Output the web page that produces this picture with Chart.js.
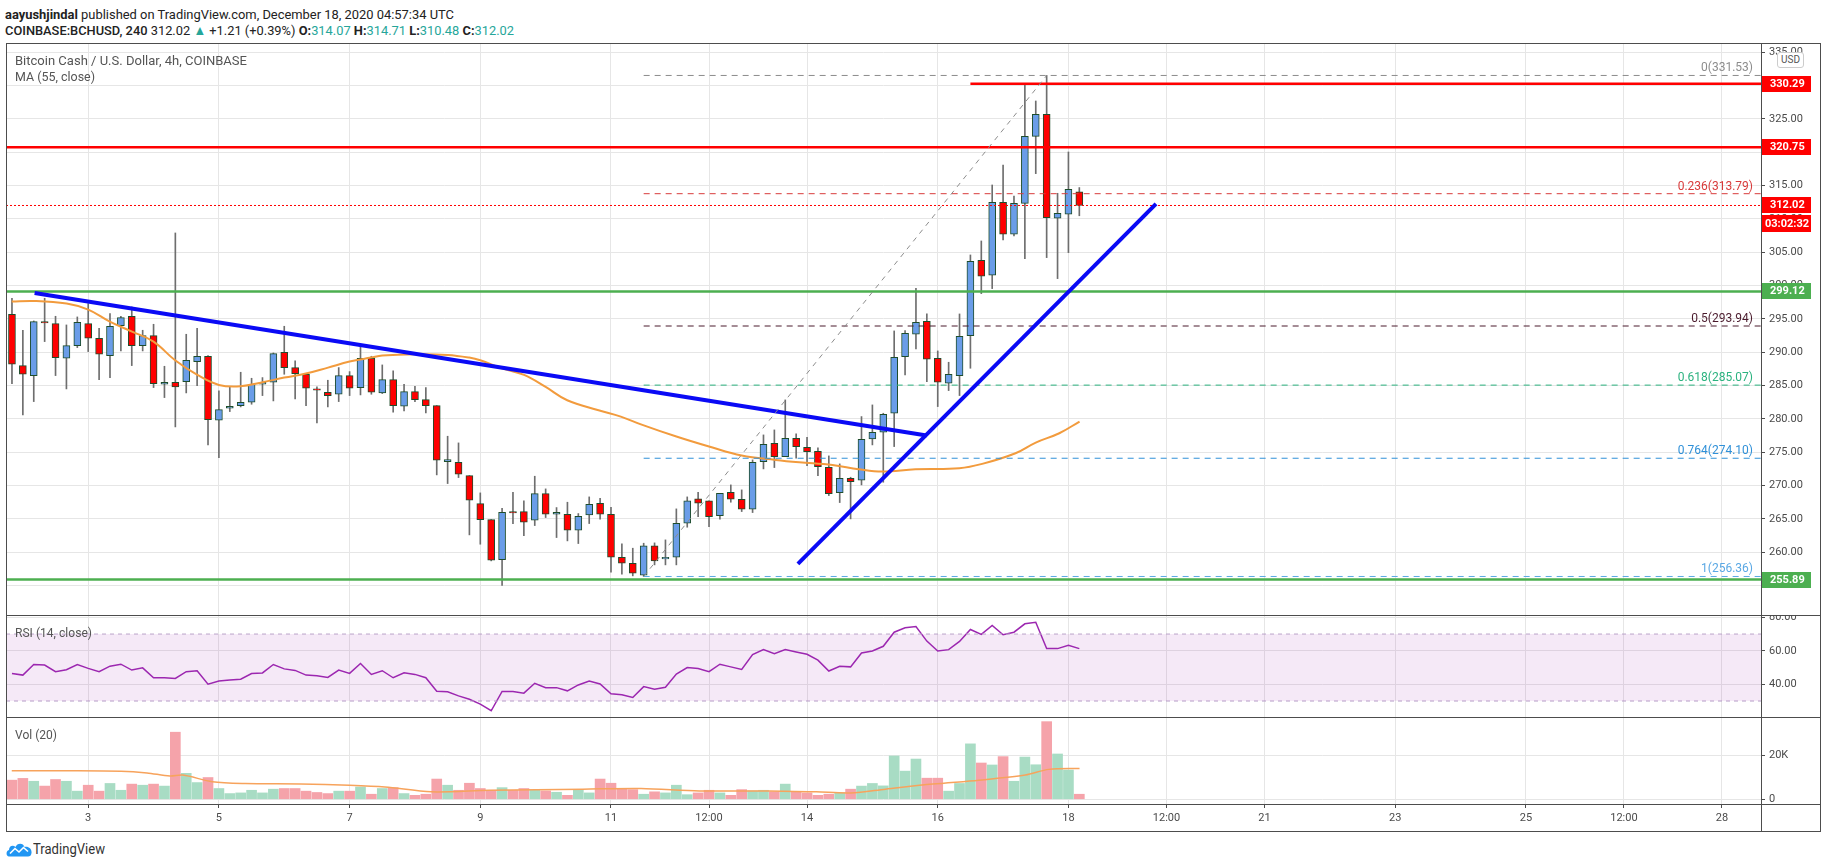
<!DOCTYPE html>
<html>
<head>
<meta charset="utf-8">
<title>BCHUSD 4h</title>
<script src="https://cdn.jsdelivr.net/npm/chart.js@4.4.1/dist/chart.umd.min.js"></script>
<style>
  body { margin: 0; background: #fff; font-family: Roboto, 'Liberation Sans', sans-serif; color: #222; }
  #page { position: relative; width: 1828px; height: 868px; overflow: hidden; }
  .txt { position: absolute; white-space: nowrap; transform-origin: 0 50%; }
  .up { color: #26a69a; }
  canvas { position: absolute; left: 6px; }
  .line { position: absolute; background: #4d4d4d; z-index: 5; }
  .pane-label { position: absolute; left: 15px; font-size: 13px; line-height: 14px; color: #555; z-index: 6; white-space: nowrap; transform-origin: 0 50%; }
</style>
</head>
<body>
<div id="page">
  <div class="txt" data-w="449" style="left:5px;top:6px;font-size:13.5px;line-height:16px;"><b>aayushjindal</b> published on TradingView.com, December 18, 2020 04:57:34 UTC</div>
  <div class="txt" data-w="509" style="left:5px;top:22px;font-size:13.5px;line-height:16px;"><span style="font-weight:500">COINBASE:BCHUSD, 240</span> 312.02 <span class="up">▲</span> +1.21 (+0.39%) <b>O:</b><span class="up">314.07</span> <b>H:</b><span class="up">314.71</span> <b>L:</b><span class="up">310.48</span> <b>C:</b><span class="up">312.02</span></div>

  <canvas id="priceChart" width="1815" height="572" style="top:43px"></canvas>
  <canvas id="rsiChart" width="1815" height="102" style="top:615px"></canvas>
  <canvas id="volChart" width="1815" height="114" style="top:717px"></canvas>

  <div class="pane-label" data-w="232" style="top:54px;">Bitcoin Cash / U.S. Dollar, 4h, COINBASE</div>
  <div class="pane-label" data-w="80" style="top:70px;">MA (55, close)</div>
  <div class="pane-label" data-w="77" style="top:626px;">RSI (14, close)</div>
  <div class="pane-label" data-w="42" style="top:728px;">Vol (20)</div>

  <div class="txt" style="left:1777px;top:52px;width:25px;height:14px;border:1px solid #ccc;border-radius:3px;background:#fff;font-size:10px;line-height:14px;text-align:center;color:#555;z-index:6;">USD</div>

  <!-- frame and pane dividers -->
  <div class="line" style="left:6px;top:43px;width:1815px;height:1px;"></div>
  <div class="line" style="left:6px;top:615px;width:1815px;height:1px;"></div>
  <div class="line" style="left:6px;top:717px;width:1815px;height:1px;"></div>
  <div class="line" style="left:6px;top:804px;width:1815px;height:1px;"></div>
  <div class="line" style="left:6px;top:831px;width:1815px;height:1px;"></div>
  <div class="line" style="left:6px;top:43px;width:1px;height:789px;"></div>
  <div class="line" style="left:1820px;top:43px;width:1px;height:789px;"></div>
  <div class="line" style="left:1761px;top:43px;width:1px;height:789px;"></div>

  <svg class="txt" style="left:6px;top:842px;" width="26" height="15" viewBox="0 0 26 15">
    <path d="M3 14.5 C0 14.5 -0.5 9 3 8 C3 4 7 2.5 9.5 5 C11 0.5 17.5 0.5 18.5 5 C22.5 4 26 7 25.5 11 C25.3 13.5 24 14.5 22 14.5 Z" fill="#2196f3"/>
    <polyline points="4,11.5 9,6.5 13,10 17.5,5.5 22,9.5" fill="none" stroke="#fff" stroke-width="1.6"/>
  </svg>
  <div class="txt" data-w="72" style="left:33px;top:841px;font-size:14px;line-height:16px;color:#333;">TradingView</div>
</div>

<script>
// BCHUSD 4h candles, first bar Dec 1 20:00 UTC, last bar Dec 18 04:00 UTC
const opens = [295.7, 288.0, 286.5, 294.6, 294.3, 289.1, 291.0, 294.3, 292.1, 289.5,
  294.0, 295.4, 291.0, 292.5, 285.2, 285.5, 285.6, 288.6, 289.4, 279.8,
  281.6, 282.0, 282.5, 285.2, 285.5, 290.0, 287.7, 286.7, 284.5, 284.0,
  283.7, 286.5, 284.7, 289.1, 283.9, 285.9, 281.9, 284.1, 282.9, 282.0,
  273.6, 273.5, 271.5, 267.3, 264.9, 258.9, 266.1, 266.1, 264.8, 268.8,
  265.7, 265.7, 263.3, 265.6, 267.35, 265.7, 259.25, 258.35, 256.55, 260.95,
  259.0, 259.25, 264.35, 268.0, 267.7, 265.5, 269.0, 267.95, 266.45, 273.6,
  276.35, 274.35, 277.1, 275.75, 275.15, 272.75, 268.95, 271.1, 270.8, 277.0,
  278.0, 280.85, 289.35, 292.7, 294.65, 289.1, 285.35, 286.5, 292.5, 303.8,
  301.55, 312.5, 307.7, 312.35, 322.4, 325.7, 310.1, 310.7, 314.07];
const highs = [298.1, 293.3, 294.7, 298.1, 295.4, 294.1, 295.3, 297.3, 293.6, 295.8,
  295.4, 296.8, 293.3, 294.2, 287.9, 307.9, 292.7, 293.6, 289.5, 284.2,
  284.8, 287.0, 286.1, 286.2, 289.9, 293.9, 288.7, 286.8, 284.8, 285.8,
  287.7, 287.1, 290.8, 289.4, 288.1, 287.2, 285.2, 284.9, 284.7, 282.0,
  277.4, 276.4, 271.5, 268.9, 264.9, 266.6, 269.0, 267.7, 271.4, 269.5,
  266.7, 267.5, 265.8, 268.3, 268.1, 266.75, 261.25, 260.6, 261.35, 261.4,
  261.85, 266.5, 268.3, 269.0, 267.7, 268.85, 270.1, 269.35, 273.85, 277.6,
  278.35, 282.85, 277.75, 277.25, 275.65, 274.45, 273.25, 271.25, 280.35, 282.1,
  280.85, 293.2, 293.25, 299.6, 295.75, 290.2, 288.5, 295.75, 304.6, 306.7,
  315.1, 318.1, 313.45, 330.35, 327.7, 331.53, 313.85, 320.05, 314.71];
const lows = [285.3, 280.6, 282.6, 291.6, 286.5, 284.5, 290.7, 290.1, 285.9, 286.2,
  290.2, 288.0, 290.2, 284.7, 283.2, 278.8, 283.9, 285.0, 276.1, 274.2,
  281.1, 281.8, 282.2, 283.5, 282.7, 286.7, 283.0, 282.0, 279.4, 281.8,
  282.6, 283.5, 283.6, 283.7, 283.8, 281.0, 281.2, 282.6, 280.9, 271.6,
  270.3, 271.2, 262.6, 261.2, 258.7, 255.0, 264.3, 262.5, 264.0, 265.2,
  262.2, 261.7, 261.3, 264.3, 264.95, 257.0, 256.7, 256.45, 256.36, 258.1,
  258.1, 258.1, 263.75, 265.35, 263.85, 264.95, 267.5, 266.1, 265.95, 272.5,
  272.7, 274.35, 274.1, 273.0, 271.5, 268.5, 267.45, 265.0, 270.1, 276.1,
  270.5, 275.85, 286.6, 290.5, 285.6, 281.85, 284.25, 283.5, 287.6, 298.8,
  299.55, 306.85, 307.45, 304.05, 316.8, 304.2, 301.05, 304.95, 310.48];
const closes = [288.2, 286.7, 294.6, 294.4, 289.2, 291.0, 294.5, 292.1, 289.7, 293.9,
  295.2, 291.0, 292.5, 285.3, 285.5, 284.8, 288.8, 289.4, 279.9, 281.4,
  281.9, 282.5, 285.2, 285.5, 289.8, 287.7, 286.8, 284.6, 284.3, 283.5,
  286.5, 284.6, 289.1, 284.0, 285.9, 282.0, 284.1, 282.9, 282.0, 273.8,
  273.9, 271.7, 267.8, 264.9, 258.8, 266.0, 265.9, 264.5, 268.8, 265.7,
  266.0, 263.3, 265.4, 267.2, 265.7, 259.25, 258.35, 256.85, 260.95, 258.7,
  259.25, 264.35, 267.7, 267.35, 265.35, 268.85, 267.95, 266.45, 273.5, 276.2,
  274.35, 277.1, 275.85, 275.1, 272.85, 268.8, 271.1, 270.6, 276.95, 278.0,
  280.7, 289.25, 292.85, 294.5, 288.95, 285.5, 286.7, 292.4, 303.65, 301.4,
  312.5, 307.7, 312.35, 322.4, 325.7, 310.2, 310.85, 314.45, 312.02];

// volume in thousands
const volumes = [8.7, 9.5, 8.2, 6.0, 9.0, 8.2, 3.7, 6.4, 3.7, 7.2,
  4.1, 6.9, 6.4, 6.9, 6.0, 30.5, 11.8, 7.6, 9.9, 4.9,
  2.6, 2.9, 4.1, 2.9, 4.6, 4.9, 4.9, 3.7, 3.1, 2.6,
  3.7, 3.7, 5.6, 2.3, 4.9, 5.3, 2.6, 1.8, 2.3, 9.2,
  6.4, 4.1, 7.3, 4.9, 4.1, 5.3, 4.1, 4.9, 4.1, 3.8,
  3.2, 1.8, 4.4, 2.9, 9.2, 7.3, 4.7, 4.4, 2.3, 3.4,
  2.9, 6.4, 2.1, 2.9, 4.1, 2.9, 1.8, 4.4, 3.8, 4.1,
  3.4, 6.9, 3.4, 2.9, 1.8, 2.3, 2.9, 4.6, 6.0, 7.2,
  6.1, 19.7, 12.8, 18.3, 9.6, 9.6, 3.7, 7.2, 25.2, 16.5,
  15.6, 19.4, 8.2, 19.2, 15.7, 35.3, 20.6, 13.3, 2.3];

const rsiValues = [46.5, 45.5, 51.8, 51.5, 47.5, 48.7, 51.8, 49.5, 47.5, 50.8,
  52.0, 48.5, 49.8, 43.9, 43.9, 43.5, 47.5, 48.1, 40.1, 42.0,
  42.5, 43.0, 46.4, 46.8, 51.8, 49.2, 48.3, 45.5, 45.1, 44.1,
  48.5, 46.5, 52.4, 45.9, 48.1, 43.9, 46.9, 45.9, 43.9, 35.9,
  35.5, 33.1, 31.1, 28.2, 24.2, 35.7, 35.7, 34.7, 40.6, 38.0,
  38.0, 36.1, 39.6, 42.0, 40.2, 34.3, 33.7, 32.1, 38.6, 37.0,
  38.2, 46.1, 50.0, 49.4, 47.5, 52.0, 50.4, 48.9, 57.7, 60.7,
  58.3, 60.7, 59.3, 57.9, 54.4, 47.9, 50.8, 50.4, 58.7, 59.9,
  62.7, 71.1, 73.7, 74.5, 65.8, 59.9, 60.7, 65.6, 72.7, 69.8,
  75.1, 69.6, 71.1, 76.1, 77.0, 61.3, 61.3, 63.3, 61.3];

// MA(55), x in days of December
const maTimes = [1.83, 2.17, 2.67, 3.0, 3.33, 3.67, 4.0, 4.33, 4.67, 5.0, 5.33, 5.67, 6.0, 6.33, 6.67,
  7.0, 7.33, 7.5, 8.0, 8.5, 8.83, 9.0, 9.33, 9.67, 10.0, 10.33, 10.81, 11.15, 11.48, 12.0,
  12.5, 13.0, 13.52, 13.88, 14.39, 14.79, 15.15, 15.66, 16.33, 16.68, 17.19, 17.5, 17.86, 18.17];
const maValues = [297.6, 297.7, 297.3, 296.4, 294.6, 293.1, 291.6, 288.8, 286.6, 285.1, 284.9, 285.5, 286.2, 286.8, 287.7,
  288.6, 289.2, 289.5, 289.7, 289.6, 289.2, 288.8, 287.6, 286.6, 284.8, 282.8, 281.3, 280.35, 279.1, 277.35,
  275.85, 274.5, 273.85, 273.5, 273.1, 272.45, 272.1, 272.45, 272.6, 273.25, 274.85, 276.45, 277.85, 279.6];

// volume MA(20), thousands
const volMaTimes = [1.83, 2.67, 3.5, 3.9, 4.25, 4.45, 4.9, 5.4, 6.25, 7.0, 7.54, 8.25, 9.14, 10.57, 11.46,
  12.35, 13.42, 14.14, 14.67, 15.2, 15.92, 16.63, 17.34, 17.7, 18.17];
const volMaValues = [13.0, 13.0, 12.8, 12.0, 10.6, 11.0, 8.0, 7.2, 7.0, 6.4, 5.6, 3.4, 4.1, 4.6, 4.9,
  3.8, 3.8, 3.4, 2.9, 4.6, 6.9, 8.7, 11.0, 13.6, 14.0];

const timeTicks = [3, 5, 7, 9, 11, 12.5, 14, 16, 18, 19.5, 21, 23, 25, 26.5, 28];
const timeLabels = ['3', '5', '7', '9', '11', '12:00', '14', '16', '18', '12:00', '21', '23', '25', '12:00', '28'];
const priceTicks = [255, 260, 265, 270, 275, 280, 285, 290, 295, 300, 305, 310, 315, 320, 325, 330, 335];
const rsiTicks = [40, 60, 80];
const volTicks = [0, 20];

const fibRatios = [0, 0.236, 0.5, 0.618, 0.764, 1];
const fibPrices = [331.53, 313.79, 293.94, 285.07, 274.10, 256.36];
const resistanceLevels = [330.29, 320.75];
const supportLevels = [299.12, 255.89];
const lastPrice = 312.02;
const countdown = '03:02:32';

// drawn lines: [day, price] pairs
const downTrend = [[2.18, 298.9], [15.83, 277.5]];
const upTrend = [[13.86, 258.25], [19.34, 312.25]];
const fibSwing = [[11.5, 256.36], [17.667, 331.53]];
const fibStart = 11.5;
const resistanceStart = [1.742, 16.5];

const xMin = 1.742, xMax = 28.598;
const firstBar = 1 + 20 / 24, barStep = 1 / 6;
const times = opens.map((_, i) => firstBar + i * barStep);

const fibColors = ['#8c8c8c', '#d83a3a', '#4a1a2c', '#2bb27f', '#2f90d8', '#5aa8e4'];
const upBody = '#6a9de8', downBody = '#ff0000', bodyBorder = '#1e4d2b';
const gridColor = '#e6e6e6', axisColor = '#4d4d4d', labelColor = '#4a4a4a';
const fontFamily = "Roboto, 'Liberation Sans', sans-serif";

// squeeze html labels to the widths they have in the snapshot
document.querySelectorAll('[data-w]').forEach(el => {
    const w = el.getBoundingClientRect().width;
    el.style.transform = `scaleX(${Number(el.dataset.w) / w})`;
});

Chart.defaults.font.family = fontFamily;
Chart.defaults.animation = false;

const isUp = i => closes[i] >= opens[i];

function flatLine(y, x0, x1, color, width, dash) {
    return {
        type: 'line',
        data: [{ x: x0, y: y }, { x: x1, y: y }],
        borderColor: color,
        borderWidth: width,
        borderDash: dash || [],
        pointRadius: 0,
        order: 1
    };
}

function segment(pts, color, width, dash) {
    return {
        type: 'line',
        data: pts.map(p => ({ x: p[0], y: p[1] })),
        borderColor: color,
        borderWidth: width,
        borderDash: dash || [],
        pointRadius: 0,
        order: 0
    };
}

// no label padding, so the plot area fills the canvas exactly
function noPadding(s) {
    s.paddingTop = 0;
    s.paddingBottom = 0;
    s.paddingLeft = 0;
    s.paddingRight = 0;
}

function timeAxis(showLabels) {
    return {
        type: 'linear',
        min: xMin,
        max: xMax,
        offset: false,
        afterBuildTicks: s => { s.ticks = timeTicks.map(v => ({ value: v })); },
        afterFit: s => { s.height = showLabels ? 27 : 0; noPadding(s); },
        grid: {
            color: gridColor,
            offset: false,
            drawTicks: showLabels,
            tickLength: 4,
            tickColor: axisColor
        },
        border: { display: false },
        ticks: {
            display: showLabels,
            autoSkip: false,
            maxRotation: 0,
            padding: 4,
            color: labelColor,
            font: { size: 11 },
            callback: v => timeLabels[timeTicks.indexOf(v)]
        }
    };
}

function valueAxis(min, max, tickValues, format) {
    return {
        type: 'linear',
        position: 'right',
        min: min,
        max: max,
        beginAtZero: false,
        afterBuildTicks: s => { s.ticks = tickValues.map(v => ({ value: v })); },
        afterFit: s => { s.width = 60; noPadding(s); },
        grid: { color: gridColor, tickLength: 4, tickColor: axisColor },
        border: { display: false },
        ticks: {
            autoSkip: false,
            padding: 4,
            color: labelColor,
            font: { size: 11 },
            callback: format
        }
    };
}

// fib labels and price boxes on the right axis
const priceOverlay = {
    id: 'priceOverlay',
    afterDraw(chart) {
        const { ctx, chartArea } = chart;
        const y = chart.scales.y;
        ctx.save();
        ctx.font = '12px ' + fontFamily;
        ctx.textAlign = 'right';
        ctx.textBaseline = 'bottom';
        fibRatios.forEach((r, i) => {
            ctx.fillStyle = fibColors[i];
            ctx.fillText(`${r}(${fibPrices[i].toFixed(2)})`, chartArea.right - 8, y.getPixelForValue(fibPrices[i]) - 1);
        });

        const boxes = resistanceLevels.map(v => ({ v, c: '#ff0000' }))
            .concat([{ v: lastPrice, c: '#ff0000' }])
            .concat(supportLevels.map(v => ({ v, c: '#4caf50' })));
        ctx.font = 'bold 11px ' + fontFamily;
        ctx.textAlign = 'left';
        ctx.textBaseline = 'middle';
        const left = chartArea.right + 1;
        boxes.forEach(b => {
            const py = Math.round(y.getPixelForValue(b.v));
            ctx.fillStyle = b.c;
            ctx.fillRect(left, py - 8, 49, 16);
            ctx.fillStyle = '#fff';
            ctx.fillText(b.v.toFixed(2), left + 8, py + 0.5);
        });
        const py = Math.round(y.getPixelForValue(lastPrice)) + 10;
        ctx.fillStyle = '#ff0000';
        ctx.fillRect(left, py, 49, 17);
        ctx.fillStyle = '#fff';
        ctx.fillText(countdown, left + 3, py + 9);
        ctx.restore();
    }
};

new Chart(document.getElementById('priceChart'), {
    type: 'bar',
    data: {
        datasets: [
            {
                label: 'wicks',
                data: times.map((t, i) => ({ x: t, y: [lows[i], highs[i]] })),
                backgroundColor: '#6e6e6e',
                barThickness: 1,
                grouped: false,
                order: 5
            },
            {
                label: 'bodies',
                data: times.map((t, i) => ({ x: t, y: [opens[i], closes[i]] })),
                backgroundColor: times.map((t, i) => isUp(i) ? upBody : downBody),
                borderColor: bodyBorder,
                borderWidth: 1,
                borderSkipped: false,
                barThickness: 7,
                grouped: false,
                order: 4
            },
            {
                type: 'line',
                label: 'MA 55',
                data: maTimes.map((t, i) => ({ x: t, y: maValues[i] })),
                borderColor: '#f29b3d',
                borderWidth: 2,
                pointRadius: 0,
                tension: 0.4,
                order: 3
            },
            ...fibPrices.map((p, i) => flatLine(p, fibStart, xMax, fibColors[i], 1, [6, 5])),
            flatLine(lastPrice, xMin, xMax, '#ff0000', 1, [2, 2]),
            flatLine(resistanceLevels[0], resistanceStart[1], xMax, '#ff0000', 2.5),
            flatLine(resistanceLevels[1], resistanceStart[0], xMax, '#ff0000', 2.5),
            ...supportLevels.map(v => flatLine(v, xMin, xMax, '#4caf50', 2.5)),
            segment(fibSwing, '#8c8c8c', 1, [5, 5]),
            segment(downTrend, '#0a0af5', 4),
            segment(upTrend, '#0a0af5', 4)
        ]
    },
    options: {
        responsive: false,
        events: [],
        layout: { padding: 0 },
        plugins: { legend: { display: false }, tooltip: { enabled: false } },
        scales: {
            x: timeAxis(false),
            y: valueAxis(250.58, 336.40, priceTicks, v => v.toFixed(2))
        }
    },
    plugins: [priceOverlay]
});

new Chart(document.getElementById('rsiChart'), {
    type: 'line',
    data: {
        datasets: [
            {
                data: [{ x: xMin, y: 70 }, { x: xMax, y: 70 }],
                borderColor: '#b9a3c9',
                borderWidth: 1,
                borderDash: [4, 4],
                backgroundColor: 'rgba(156, 39, 176, 0.1)',
                fill: '+1',
                pointRadius: 0
            },
            {
                data: [{ x: xMin, y: 30 }, { x: xMax, y: 30 }],
                borderColor: '#b9a3c9',
                borderWidth: 1,
                borderDash: [4, 4],
                pointRadius: 0
            },
            {
                label: 'RSI',
                data: times.map((t, i) => ({ x: t, y: rsiValues[i] })),
                borderColor: '#9c27b0',
                borderWidth: 1.5,
                pointRadius: 0,
                tension: 0
            }
        ]
    },
    options: {
        responsive: false,
        events: [],
        layout: { padding: 0 },
        plugins: { legend: { display: false }, tooltip: { enabled: false } },
        scales: {
            x: timeAxis(false),
            y: valueAxis(20.47, 81.37, rsiTicks, v => v.toFixed(2))
        }
    }
});

new Chart(document.getElementById('volChart'), {
    type: 'bar',
    data: {
        datasets: [
            {
                label: 'Volume',
                data: times.map((t, i) => ({ x: t, y: volumes[i] })),
                backgroundColor: times.map((t, i) => isUp(i) ? '#a8dcc4' : '#f5a3aa'),
                barThickness: 10,
                grouped: false,
                order: 2
            },
            {
                type: 'line',
                label: 'Vol MA',
                data: volMaTimes.map((t, i) => ({ x: t, y: volMaValues[i] })),
                borderColor: '#f7a35c',
                borderWidth: 1.5,
                pointRadius: 0,
                tension: 0.3,
                order: 1
            }
        ]
    },
    options: {
        responsive: false,
        events: [],
        layout: { padding: 0 },
        plugins: { legend: { display: false }, tooltip: { enabled: false } },
        scales: {
            x: timeAxis(true),
            y: valueAxis(-2.14, 37.41, volTicks, v => v === 0 ? '0' : v + 'K')
        }
    }
});
</script>
</body>
</html>
